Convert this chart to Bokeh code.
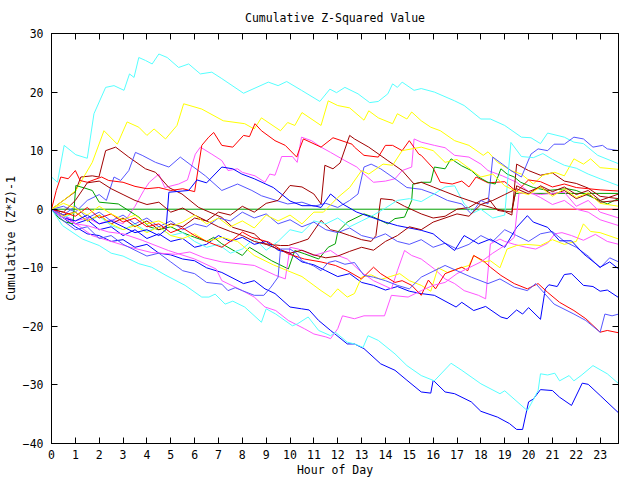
from bokeh.plotting import figure
from bokeh.models import Range1d, LinearAxis, FixedTicker, CustomLabelingPolicy
from bokeh.embed import file_html
from bokeh.resources import INLINE

# ---- data: hour of day and cumulative (z*z)-1 for each series ----
red_flat_h = [19.3, 23.78]
red_flat_v = [0, 0]

green_flat_h = [0, 19.3, 19.45, 23.78]
green_flat_v = [0, 0, 2.7, 2.7]

blue1_h = [0, 0.5, 1, 1.5, 2, 2.5, 3, 3.5, 4, 4.5, 5, 5.5, 6, 6.5, 7.14, 8.05, 8.5, 8.95, 9.37, 10.0, 10.48, 10.8, 11.2, 11.7, 12.4, 12.7, 13.1, 13.8, 14.4, 14.9, 15.5, 15.9, 16.0, 16.5, 16.9, 17.6, 18.0, 18.7, 19.2, 19.5, 19.75, 20.0, 20.2, 20.5, 21.0, 21.3, 21.8, 22.25, 22.5, 23.0, 23.78]
blue1_v = [0, -1.5, -3, -4.2, -4.5, -5.5, -5.2, -6.5, -6, -7.5, -7.8, -8.5, -8.8, -10, -10.8, -12.7, -12.2, -13.6, -14.4, -16.7, -17.0, -17.2, -19.0, -20.7, -23.0, -23.0, -23.8, -26.4, -27.5, -29.2, -31.2, -31.4, -29.2, -31.2, -31.5, -32.9, -34.5, -35.5, -36.6, -37.6, -37.6, -32.9, -32.4, -30.8, -30.96, -32.1, -33.5, -29.7, -29.9, -31.8, -34.8]

magenta1_h = [0, 0.5, 1, 1.5, 2, 2.5, 3, 3.5, 3.87, 4.1, 4.5, 4.75, 5.33, 5.7, 6.03, 6.24, 6.72, 7.14, 7.4, 7.8, 8.0, 8.53, 8.95, 9.15, 9.37, 9.65, 10.1, 10.3, 10.48, 10.9, 11.3, 11.7, 12.3, 12.8, 13.1, 13.5, 14.0, 14.4, 14.7, 15.1, 15.2, 15.5, 16.05, 16.5, 16.9, 17.5, 18.0, 18.3, 18.9, 19.5, 20.0, 20.5, 21.0, 21.5, 22.0, 22.5, 23.0, 23.78]
magenta1_v = [0, -1, -2, -1.5, -2.5, -1.8, -2.5, 0.5, 3.2, 4.6, 6.0, 3.7, 4.3, 5.0, 9.4, 10.6, 9.4, 8.3, 6.6, 6.9, 6.3, 5.7, 4.6, 6.0, 5.8, 9.0, 9.0, 8.0, 12.3, 11.7, 10.6, 9.7, 8.3, 7.2, 6.0, 4.6, 4.8, 5.2, 6.6, 7.2, 12.0, 11.45, 10.9, 10.5, 9.2, 8.9, 7.7, 6.6, 5.7, 4.6, 3.0, 2.0, 0.8, 1.5, 0.0, -0.5, -1.8, -2.8]

cyan1_h = [0, 0.25, 0.53, 1.02, 1.5, 1.78, 2.27, 2.62, 3.04, 3.27, 3.46, 3.66, 3.94, 4.22, 4.5, 4.85, 5.33, 5.75, 6.24, 6.72, 7.14, 8.05, 9.09, 9.5, 9.86, 10.48, 11.25, 11.67, 11.95, 12.3, 12.85, 13.34, 13.7, 14.1, 14.3, 14.5, 14.7, 15.2, 15.5, 16.05, 16.9, 17.3, 18.0, 18.4, 19.0, 19.7, 20.1, 20.5, 20.8, 21.5, 21.9, 22.3, 22.9, 23.78]
cyan1_v = [5.5, 4.6, 10.9, 9.3, 8.7, 16.3, 20.8, 21.1, 20.3, 23.1, 22.5, 25.9, 25.4, 24.8, 26.5, 25.9, 24.2, 24.8, 23.1, 23.4, 22.3, 19.8, 21.7, 21.1, 21.8, 20.3, 18.4, 20.5, 19.9, 20.8, 19.7, 18.2, 18.4, 19.7, 21.4, 20.8, 21.7, 20.3, 20.6, 20.0, 18.5, 17.7, 15.4, 15.4, 14.3, 12.3, 12.2, 11.2, 13.0, 12.3, 11.45, 11.2, 9.2, 7.75]

darkred1_h = [0, 0.5, 1.0, 1.23, 1.71, 1.99, 2.27, 2.69, 3.24, 3.94, 4.36, 4.92, 5.47, 6.17, 7.14, 7.6, 8.5, 8.95, 9.6, 9.93, 10.4, 10.76, 11.3, 11.7, 12.0, 12.5, 13.0, 13.4, 13.6, 13.8, 14.3, 14.8, 15.5, 16.0, 16.5, 17.0, 17.5, 18.0, 18.3, 18.7, 19.0, 19.3, 19.5, 20.0, 20.5, 21.0, 21.5, 22.0, 22.5, 23.0, 23.78]
darkred1_v = [0, 1.5, 3.0, 5.5, 5.7, 5.5, 10.0, 10.6, 8.9, 6.9, 6.3, 3.7, 2.6, 0.3, -1.4, -3.1, -4.2, -5.9, -6.2, -6.2, -5.6, -5.1, -1.9, -3.5, -3.8, -4.5, -5.2, -5.5, -4.5, 1.8, 1.6, 0.5, -0.8, -1.5, -1.2, 0.0, 0.3, 1.5, 1.9, -0.2, -0.4, -1.0, 7.7, 6.6, 5.8, 6.2, 4.8, 4.4, 3.6, 2.2, 1.8]

yellow1_h = [0, 0.5, 1.02, 1.71, 2.2, 2.76, 3.17, 3.66, 4.0, 4.3, 4.78, 5.26, 5.54, 6.3, 7.2, 8.1, 8.5, 8.8, 9.6, 9.9, 10.2, 10.5, 11.3, 11.6, 12.0, 12.5, 13.1, 13.3, 13.7, 14.3, 14.5, 14.9, 15.1, 15.5, 15.9, 16.3, 16.9, 17.5, 18.1, 18.3, 18.7, 19.26, 19.7, 20.2, 20.6, 21.1, 21.5, 21.9, 22.3, 22.6, 23.0, 23.78]
yellow1_v = [0, 1.5, 3.2, 8.0, 13.4, 11.1, 14.9, 14.0, 12.6, 13.7, 12.0, 14.3, 18.0, 17.1, 15.1, 14.6, 13.7, 15.6, 13.4, 14.8, 14.3, 16.5, 14.3, 18.5, 17.7, 17.3, 15.2, 16.8, 15.6, 14.6, 16.3, 15.4, 16.6, 15.1, 14.0, 13.4, 11.7, 10.9, 9.2, 9.8, 8.0, 6.6, 6.0, 4.3, 5.8, 6.3, 5.7, 8.6, 7.7, 8.6, 7.1, 6.8]

lightblue1_h = [0, 0.5, 1.0, 1.5, 2.0, 2.3, 2.62, 2.9, 3.24, 3.52, 3.8, 4.36, 4.92, 5.4, 5.89, 6.45, 7.14, 7.8, 8.4, 8.8, 9.5, 9.9, 10.5, 11.0, 11.5, 12.0, 12.5, 12.85, 13.1, 13.4, 13.8, 14.4, 14.9, 15.5, 16.05, 16.6, 17.2, 17.6, 18.0, 18.3, 18.5, 18.9, 19.26, 19.7, 20.1, 20.4, 20.8, 21.07, 21.5, 21.9, 22.3, 22.7, 23.1, 23.3, 23.78]
lightblue1_v = [0, 0.5, -0.5, 1.5, 2.5, 1.5, 5.5, 4.9, 6.6, 9.7, 9.2, 8.0, 7.2, 8.9, 7.4, 5.7, 3.2, 4.3, 3.2, 2.3, 1.4, 0.9, 1.2, 0.5, 1.0, 0.3, 1.5, 2.6, 7.2, 7.7, 6.9, 5.2, 3.7, 3.4, 2.6, 1.5, 0.9, -0.8, 1.5, 0.9, 8.9, 7.7, 6.6, 5.5, 9.4, 10.3, 10.0, 11.1, 11.1, 12.3, 12.0, 10.6, 10.9, 10.3, 10.0]

red1_h = [0, 0.2, 0.39, 0.7, 1.0, 1.2, 1.5, 2.1, 2.4, 3.0, 3.5, 4.0, 4.5, 5.0, 5.5, 6.0, 6.3, 6.59, 6.8, 7.14, 7.6, 8.05, 8.3, 8.53, 8.8, 9.37, 9.8, 10.28, 10.4, 10.56, 11.3, 11.8, 12.6, 12.7, 13.1, 13.7, 14.0, 14.3, 14.7, 15.0, 15.4, 15.5, 16.0, 16.3, 16.8, 17.2, 17.5, 17.8, 18.3, 19.0, 19.5, 20.0, 20.5, 21.0, 21.5, 22.0, 22.5, 23.0, 23.78]
red1_v = [0, 3.2, 5.5, 5.2, 6.6, 4.9, 4.6, 5.5, 4.9, 4.6, 3.9, 3.5, 3.7, 3.2, 3.5, 3.0, 10.9, 12.3, 13.1, 10.9, 10.6, 12.6, 12.4, 14.6, 13.4, 11.7, 10.9, 8.9, 10.3, 12.0, 10.6, 12.2, 11.1, 10.6, 9.2, 8.9, 10.9, 10.9, 10.0, 11.7, 9.4, 9.2, 7.0, 4.6, 4.3, 4.8, 3.8, 5.5, 4.5, 4.7, 3.0, 5.0, 4.7, 3.8, 4.3, 3.7, 3.5, 3.3, 3.1]

green1_h = [0, 0.3, 0.6, 0.9, 1.02, 1.4, 1.71, 2.0, 2.8, 3.66, 4.1, 4.5, 5.0, 5.5, 6.0, 6.5, 6.8, 7.14, 8.0, 8.3, 9.23, 9.93, 10.2, 10.6, 11.2, 11.6, 11.9, 12.0, 12.4, 13.1, 13.5, 14.1, 14.4, 14.8, 15.1, 15.15, 15.5, 15.9, 16.05, 16.5, 16.75, 17.2, 17.6, 17.9, 18.3, 18.6, 18.84, 19.1, 19.4, 19.67, 20.2, 20.8, 21.6, 22.0, 22.7, 23.3, 23.6, 23.78]
green1_v = [0, -1.5, -2.2, -2.5, 4.05, 3.6, 3.2, 1.2, 0.9, -1.35, -3.0, -3.5, -3.0, -4.0, -4.8, -5.5, -4.8, -5.9, -7.9, -6.5, -8.8, -10.2, -7.05, -7.6, -8.5, -6.5, -5.9, -3.9, -2.2, -0.8, -1.35, -2.5, -1.6, -1.35, 1.5, 4.3, 4.6, 4.6, 7.2, 6.9, 8.6, 7.4, 6.6, 5.5, 4.6, 4.3, 6.9, 6.0, 5.5, 4.6, 3.7, 3.2, 3.5, 3.2, 2.0, 0.9, 1.5, 1.8]

blue2_h = [0, 0.5, 1, 1.5, 2, 2.5, 3, 3.5, 4, 4.5, 5, 5.5, 6, 6.5, 7, 7.5, 8, 8.5, 9, 9.5, 10, 10.5, 11, 11.5, 12, 12.5, 13, 13.5, 14, 14.5, 15, 15.5, 16.05, 16.96, 17.2, 17.7, 18.2, 18.84, 19.1, 19.5, 19.75, 20.0, 20.5, 20.7, 20.85, 21.2, 21.5, 21.8, 22.3, 22.7, 23.0, 23.3, 23.78]
blue2_v = [0, -1, -2.5, -1.8, -3.5, -3, -4.5, -3.5, -5, -4.2, -5.5, -5, -6.5, -6, -4.5, -5.5, -4.8, -6, -5.5, -7, -7.5, -9, -9.5, -10.5, -11.5, -11, -12.5, -13, -13.8, -13.2, -14, -14.4, -14.7, -16.7, -15.9, -17.3, -16.6, -18.4, -18.7, -17.2, -17.9, -16.8, -18.8, -13.6, -12.9, -13.2, -11.15, -11.0, -13.0, -13.2, -14.0, -13.8, -15.1]

magenta2_h = [0, 0.5, 1.2, 1.7, 2.5, 3.3, 4.2, 5.2, 5.8, 6.4, 7.14, 8.5, 9.4, 9.8, 10.0, 10.35, 11.0, 11.7, 12.0, 12.4, 13.0, 13.5, 14.25, 14.5, 14.8, 15.1, 15.5, 16.05, 16.5, 16.9, 17.3, 17.9, 18.2, 18.4, 18.8, 19.0, 19.4, 19.9, 20.3, 20.8, 21.1, 21.4, 21.8, 22.3, 22.8, 23.3, 23.78]
magenta2_v = [0, -1, -3, -4.5, -5.5, -6.5, -7.4, -7.7, -7.3, -8.3, -9.0, -9.6, -11.3, -11.9, -6.5, -6.8, -7.9, -7.05, -7.9, -8.5, -10.8, -12.2, -13.6, -10.5, -7.05, -7.9, -8.5, -10.2, -11.9, -12.7, -13.9, -14.7, -15.3, -5.9, -5.1, -5.5, -6.0, -6.5, -6.8, -5.8, -4.2, -4.0, -4.5, -5.3, -4.3, -5.5, -6.0]

cyan2_h = [0, 0.5, 1, 1.5, 2, 2.5, 3, 3.5, 4, 4.5, 5, 5.5, 6, 6.5, 7, 7.5, 8, 8.5, 9, 9.5, 10, 10.5, 11, 11.5, 12, 12.5, 13, 13.5, 14, 14.5, 15, 15.5, 16, 16.5, 16.9, 17.3, 17.7, 18.0, 18.5, 19.0, 19.26, 19.7, 20.2, 20.6, 21.0, 21.5, 22.0, 22.5, 23.0, 23.78]
cyan2_v = [0, -1.5, -0.5, -2, -1.2, -2.8, -3.5, -2.5, -3.8, -3, -4.5, -4, -5.5, -6.5, -6, -7.5, -6.8, -5, -7, -5.5, -3.5, -4, -2, -2.5, -1.5, -3, -2, -1, 0.2, 1.5, 1.8, 1.3, 2.5, 3.8, 4.0, 0.9, -0.6, 0.0, -1.5, -1.0, 11.4, 9.0, 8.8, 9.5, 8.5, 7.5, 7.0, 6.0, 5.2, 4.0]

darkred2_h = [0, 0.5, 1, 1.5, 2, 2.5, 3, 3.5, 4, 4.5, 5, 5.5, 6, 6.5, 7, 7.5, 8, 8.5, 9, 9.5, 10.0, 10.5, 11.0, 11.3, 11.46, 11.8, 12.1, 12.5, 12.7, 13.3, 14.1, 14.7, 15.2, 15.5, 16.0, 16.5, 17.0, 17.5, 18.0, 18.5, 19.0, 19.3, 19.5, 20.0, 20.5, 21.0, 21.5, 22.0, 22.5, 23.0, 23.78]
darkred2_v = [0, -1, -0.5, -2, -1, -2.5, -1.5, -3, -2, -3.5, -2.5, -3, -1.5, -2, -0.5, -1, 0.5, -0.5, 1.0, 1.5, 4.05, 3.8, 2.6, 0.9, 7.5, 6.9, 7.9, 12.6, 12.0, 10.6, 8.3, 6.6, 4.3, 4.6, 3.8, 3.0, 2.2, 1.5, 0.8, 0.2, -0.3, -0.5, 4.0, 3.0, 3.8, 2.5, 3.2, 1.8, 2.6, 1.2, 1.5]

yellow2_h = [0, 0.5, 1.0, 1.5, 2.0, 2.5, 3.0, 3.5, 4.0, 4.5, 5.0, 5.5, 6.0, 6.5, 7.14, 7.8, 8.5, 9.3, 9.9, 10.5, 11.0, 11.3, 11.7, 12.0, 12.4, 12.7, 13.0, 13.4, 13.8, 14.2, 14.6, 15.0, 15.5, 15.9, 16.2, 16.6, 17.0, 17.5, 17.7, 18.1, 18.4, 18.8, 19.1, 19.5, 19.9, 20.5, 21.0, 21.5, 22.0, 22.3, 22.6, 23.0, 23.78]
yellow2_v = [0, -1.2, -0.5, -2.0, -1.0, -2.5, -3.5, -2.8, -4.0, -3.0, -4.5, -5.0, -4.2, -5.5, -4.8, -5.5, -7.9, -9.5, -10.5, -11.5, -13.0, -13.9, -15.0, -13.6, -15.0, -14.4, -11.6, -11.2, -12.0, -11.5, -11.0, -12.2, -13.0, -14.0, -10.0, -10.8, -10.2, -9.6, -7.9, -9.0, -8.8, -10.0, -6.8, -6.2, -6.0, -6.2, -5.2, -6.0, -5.5, -2.5, -3.8, -4.0, -5.1]

lightblue2_h = [0, 0.5, 1, 1.5, 2, 2.5, 3, 3.5, 4, 4.5, 5, 5.5, 6, 6.5, 7, 7.5, 8, 8.5, 9, 9.5, 10, 10.5, 11, 11.5, 12, 12.5, 13, 13.5, 14, 14.5, 15, 15.5, 16, 16.5, 17, 17.5, 18, 18.5, 19, 19.5, 20, 20.5, 21, 21.5, 22, 22.5, 23.0, 23.4, 23.78]
lightblue2_v = [0, -1, 0.5, -1.5, -0.5, -2, -1, -2.5, -1.5, -3, -2, -3.5, -2.5, -3, -1.5, -2, -0.5, -1.5, -0.8, -2.5, -1.8, -3, -2.2, -3.5, -4.0, -3.2, -4.5, -5, -4.2, -5.5, -6, -5.2, -6.5, -5.8, -6.8, -6.0, -4.5, -5.5, -3.5, -4.5, -5.5, -4.2, -3.8, -5.5, -6.5, -8.0, -10.0, -8.3, -9.0]

red2_h = [0, 0.5, 1, 1.5, 2, 2.5, 3, 3.5, 4, 4.5, 5, 5.5, 6, 6.5, 7.14, 7.6, 8.0, 8.4, 9.1, 9.9, 10.6, 11.3, 11.9, 12.4, 13.0, 13.5, 13.8, 14.4, 14.7, 15.1, 15.5, 15.8, 16.1, 16.5, 17.2, 17.45, 17.7, 18.1, 18.4, 18.84, 19.4, 19.95, 20.4, 20.8, 21.3, 21.9, 22.4, 23.0, 23.3, 23.78]
red2_v = [0, -0.5, -1.2, 0.3, -1.5, -0.8, -2.2, -1.5, -3.0, -2.5, -4.0, -3.2, -4.5, -5.5, -6.5, -5.2, -3.9, -4.8, -5.6, -7.6, -8.5, -9.0, -9.6, -10.5, -11.9, -9.9, -11.0, -12.5, -12.2, -13.0, -14.7, -12.1, -13.6, -11.0, -9.9, -10.5, -7.9, -8.8, -9.9, -11.3, -12.7, -13.6, -12.7, -14.2, -15.9, -17.3, -18.7, -21.0, -20.7, -21.1]

blue3_h = [0, 0.5, 1, 1.5, 2, 2.5, 3, 3.5, 4, 4.5, 4.8, 4.92, 5.75, 6.1, 6.5, 7.14, 7.6, 7.98, 8.5, 9.3, 10.0, 10.5, 11.0, 11.3, 11.7, 12.2, 12.8, 13.4, 14.0, 14.5, 15.5, 16.0, 16.33, 16.9, 17.2, 17.3, 17.9, 18.4, 19.0, 19.5, 19.95, 20.2, 20.8, 21.3, 21.8, 22.3, 23.0, 23.4, 23.78]
blue3_v = [0, -1.5, -2, -1, -2.5, -2, -3, -4, -3.5, -4.5, -3.5, 2.9, 3.2, 5.0, 4.5, 7.2, 6.9, 6.0, 5.2, 3.7, 1.4, 0.6, 0.6, 0.3, 2.6, 0.9, -0.5, -1.35, -2.2, -2.8, -3.6, -4.2, -5.3, -7.05, -5.1, -4.5, -5.9, -5.1, -6.5, -3.1, -1.1, -2.2, -3.1, -5.4, -5.4, -7.6, -9.9, -9.0, -10.2]

magenta3_h = [0, 0.5, 1.0, 1.5, 2.4, 3.0, 3.8, 4.9, 6.0, 6.9, 7.14, 8.0, 8.5, 8.95, 9.4, 9.93, 10.6, 11.0, 11.5, 11.7, 12.0, 12.2, 12.7, 13.1, 13.96, 14.25, 14.95, 15.5, 16.0, 16.5, 17.0, 17.5, 18.0, 18.5, 19.0, 19.4, 19.6, 20.0, 20.5, 21.0, 21.5, 22.0, 22.5, 23.0, 23.78]
magenta3_v = [0, -1.5, -2.5, -2.8, -3.9, -4.2, -5.3, -7.05, -8.5, -10.2, -12.2, -13.9, -15.0, -16.7, -17.3, -19.0, -20.4, -21.3, -21.8, -22.1, -20.4, -18.2, -18.7, -18.2, -18.2, -14.7, -15.0, -13.9, -13.0, -12.5, -11.0, -10.0, -9.0, -7.5, -6.2, -4.8, 2.7, 2.7, 2.5, 2.7, 2.9, 0.5, 1.5, -0.5, -1.5]

cyan3_h = [0, 0.46, 1.3, 2.0, 2.5, 3.0, 3.66, 4.2, 4.8, 5.6, 6.3, 6.6, 6.86, 7.28, 7.6, 8.1, 8.8, 9.0, 9.4, 10.1, 10.3, 10.76, 11.2, 11.7, 11.9, 12.4, 12.7, 13.06, 13.27, 13.7, 14.4, 14.9, 15.5, 16.05, 16.75, 17.2, 18.0, 18.8, 19.0, 19.95, 20.4, 20.5, 20.8, 21.1, 21.3, 21.7, 21.9, 22.2, 22.7, 23.3, 23.78]
cyan3_v = [0, -2.8, -5.1, -6.2, -7.5, -8, -9.3, -9.9, -11.3, -13.0, -15.0, -15.0, -14.5, -16.2, -15.7, -16.7, -19.3, -17.0, -17.9, -19.9, -19.6, -18.4, -20.7, -21.6, -21.0, -22.7, -23.0, -23.6, -21.6, -22.4, -24.7, -26.7, -28.4, -29.3, -26.3, -27.5, -29.8, -31.5, -31.0, -34.4, -30.96, -28.1, -28.3, -28.0, -29.3, -28.4, -29.3, -28.4, -26.7, -28.1, -29.8]

darkred3_h = [0, 0.5, 1.0, 1.5, 2.0, 2.5, 3.0, 3.5, 4.0, 4.5, 5.0, 5.5, 6.0, 6.5, 7.0, 7.5, 8.0, 8.5, 9.0, 9.5, 10.0, 10.5, 11.0, 11.5, 12.0, 12.5, 13.0, 13.5, 14.0, 14.5, 15.0, 15.5, 16.0, 16.5, 17.0, 17.5, 18.0, 18.5, 19.0, 19.5, 20.0, 20.5, 21.0, 21.5, 22.0, 22.5, 23.0, 23.78]
darkred3_v = [0, -0.5, 1.5, 4.5, 4.8, 3.5, 2.5, 1.5, 0.8, 1.2, -0.5, 0.2, -1.0, -2.0, -3.0, -3.8, -4.5, -5.5, -6.0, -6.8, -7.5, -7.0, -7.8, -8.3, -8.0, -7.2, -6.5, -7.0, -5.5, -4.5, -3.0, -3.5, -2.2, -1.5, -0.8, -1.2, 0.8, 1.5, 2.5, 3.5, 2.6, 4.0, 3.0, 3.8, 2.5, 3.2, 1.5, 2.6]

yellow3_h = [0, 0.5, 1, 1.5, 2, 2.5, 3, 3.5, 4, 4.5, 5, 5.5, 6, 6.5, 7, 7.5, 8, 8.5, 9, 9.5, 10, 10.5, 11, 11.4, 12.0, 12.5, 13.0, 13.3, 13.9, 14.3, 14.7, 15.5, 16.0, 16.5, 17.0, 17.5, 18.0, 18.5, 19.0, 19.5, 20.0, 20.5, 21.0, 21.5, 22.0, 22.5, 23.0, 23.78]
yellow3_v = [0, 1.0, 0.2, -1.0, 0.5, -0.8, -1.8, -1.0, -2.5, -2.0, -3.0, -2.2, -1.0, -2.5, -1.5, -3.0, -2.0, -3.2, -1.0, -2.0, -1.0, -2.5, -0.5, -0.5, 2.0, 3.7, 6.6, 6.0, 7.7, 7.5, 10.0, 10.6, 10.0, 8.0, 8.5, 7.0, 5.5, 6.0, 4.0, 3.0, 2.5, 3.8, 2.2, 3.5, 2.0, 2.8, 1.0, 0.5]

lightblue3_h = [0, 0.5, 1, 1.5, 2, 2.5, 3, 3.5, 4, 4.5, 5, 5.5, 6, 6.5, 7.14, 7.4, 7.7, 8.0, 8.5, 8.9, 9.2, 9.5, 9.6, 10.0, 10.3, 10.5, 11.0, 11.3, 11.6, 11.9, 12.3, 12.7, 13.1, 13.5, 14.0, 14.5, 15.0, 15.5, 16.5, 17.6, 18.3, 18.8, 19.4, 19.95, 20.3, 21.07, 21.9, 22.4, 23.0, 23.2, 23.5, 23.78]
lightblue3_v = [0, -2, -3.5, -3, -5, -4.5, -6, -7, -8, -7.5, -9, -10.5, -11, -12.5, -12.8, -13.9, -13.4, -13.9, -14.7, -14.7, -13.3, -11.6, -6.8, -6.8, -7.6, -8.8, -9.7, -10.5, -9.1, -8.8, -9.4, -9.1, -11.3, -11.6, -12.2, -13.0, -13.6, -11.6, -9.6, -11.6, -12.7, -11.9, -13.3, -13.9, -12.7, -16.2, -17.9, -19.0, -21.0, -17.9, -18.2, -17.9]

RED = "#ff0000"
GREEN = "#00a000"
BLUE = "#0000ff"
MAGENTA = "#ff55ff"
CYAN = "#55ffff"
DARKRED = "#a00000"
YELLOW = "#ffff00"
LIGHTBLUE = "#5555ff"

series = [
    (red_flat_h, red_flat_v, RED),
    (green_flat_h, green_flat_v, GREEN),
    (blue1_h, blue1_v, BLUE),
    (magenta1_h, magenta1_v, MAGENTA),
    (cyan1_h, cyan1_v, CYAN),
    (darkred1_h, darkred1_v, DARKRED),
    (yellow1_h, yellow1_v, YELLOW),
    (lightblue1_h, lightblue1_v, LIGHTBLUE),
    (red1_h, red1_v, RED),
    (green1_h, green1_v, GREEN),
    (blue2_h, blue2_v, BLUE),
    (magenta2_h, magenta2_v, MAGENTA),
    (cyan2_h, cyan2_v, CYAN),
    (darkred2_h, darkred2_v, DARKRED),
    (yellow2_h, yellow2_v, YELLOW),
    (lightblue2_h, lightblue2_v, LIGHTBLUE),
    (red2_h, red2_v, RED),
    (blue3_h, blue3_v, BLUE),
    (magenta3_h, magenta3_v, MAGENTA),
    (cyan3_h, cyan3_v, CYAN),
    (darkred3_h, darkred3_v, DARKRED),
    (yellow3_h, yellow3_v, YELLOW),
    (lightblue3_h, lightblue3_v, LIGHTBLUE),
]

x_ticks = list(range(0, 24))
y_ticks = [-40, -30, -20, -10, 0, 10, 20, 30]

FONT = "DejaVu Sans Mono"
FS = "11.5px"

p = figure(width=640, height=480, output_backend="svg", toolbar_location=None,
           x_range=Range1d(0, 23.77), y_range=Range1d(-40, 30),
           title="Cumulative Z-Squared Value",
           min_border_left=49, min_border_right=22, min_border_top=33, min_border_bottom=37)

p.title.align = "center"
p.title.text_font = FONT
p.title.text_font_size = FS
p.title.text_font_style = "normal"
p.title.text_color = "black"
p.title.standoff = 9

p.background_fill_color = "white"
p.border_fill_color = "white"
p.outline_line_color = "black"
p.outline_line_width = 1
p.xgrid.visible = False
p.ygrid.visible = False

for h, v, c in series:
    p.line(h, v, line_color=c, line_width=1)

hide_all_labels = CustomLabelingPolicy(code="""
for (const i of indices) {
    indices.unset(i)
}
return indices
""")

def style_axis(ax, ticks, show_labels):
    ax.ticker = FixedTicker(ticks=ticks)
    ax.major_tick_in = 6
    ax.major_tick_out = 0
    ax.minor_tick_line_color = None
    ax.axis_line_color = "black"
    ax.major_tick_line_color = "black"
    ax.major_label_text_font = FONT
    ax.major_label_text_font_size = FS
    ax.major_label_text_color = "black"
    ax.axis_label_text_font = FONT
    ax.axis_label_text_font_size = FS
    ax.axis_label_text_font_style = "normal"
    ax.axis_label_text_color = "black"
    if not show_labels:
        # mirrored tick marks only (gnuplot style): no labels drawn
        ax.major_label_policy = hide_all_labels
        ax.major_label_text_font_size = "1px"
        ax.major_label_standoff = 0
        ax.axis_label_standoff = 0

xa = p.xaxis[0]
style_axis(xa, x_ticks, True)
xa.axis_label = "Hour of Day"
xa.major_label_standoff = 6
xa.axis_label_standoff = 1

ya = p.yaxis[0]
style_axis(ya, y_ticks, True)
ya.axis_label = "Cumulative (Z*Z)-1"
ya.major_label_standoff = 8
ya.axis_label_standoff = 2

top_axis = LinearAxis()
style_axis(top_axis, x_ticks, False)
p.add_layout(top_axis, "above")

right_axis = LinearAxis()
style_axis(right_axis, y_ticks, False)
p.add_layout(right_axis, "right")

open("out.html", "w").write(file_html(p, INLINE))
